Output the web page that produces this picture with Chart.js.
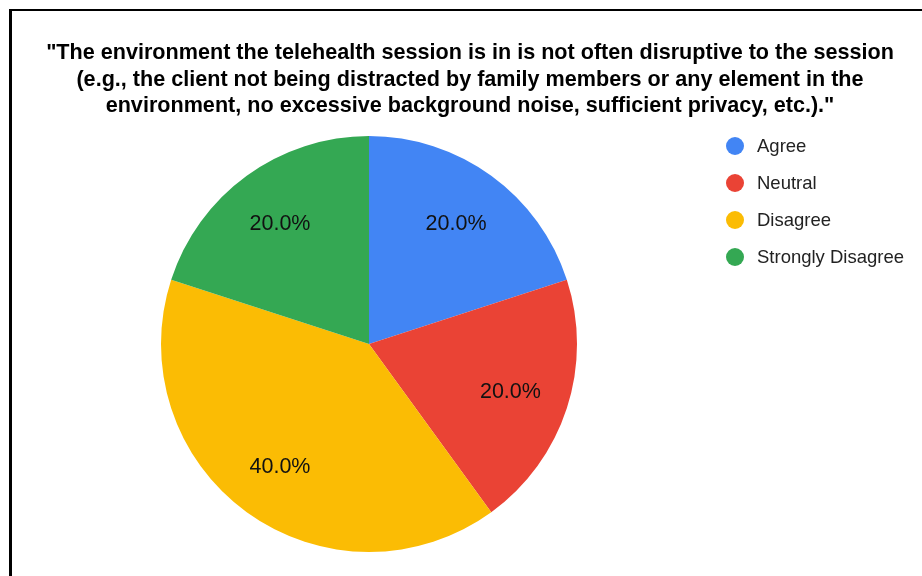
<!DOCTYPE html>
<html>
<head>
<meta charset="utf-8">
<script src="https://cdn.jsdelivr.net/npm/chart.js@4/dist/chart.umd.min.js"></script>
<style>
  html, body { margin: 0; padding: 0; background: #fff; }
  canvas { display: block; }
</style>
</head>
<body>
<canvas id="c" width="922" height="576"></canvas>
<script>
// Survey responses (share of respondents)
const categories = ['Agree', 'Neutral', 'Disagree', 'Strongly Disagree'];
const shares = [20, 20, 40, 20];
const sliceColors = ['#4285F4', '#EA4335', '#FBBC04', '#34A853'];
const titleLines = [
  '"The environment the telehealth session is in is not often disruptive to the session',
  '(e.g., the client not being distracted by family members or any element in the',
  'environment, no excessive background noise, sufficient privacy, etc.)."'
];

const FONT = '"Liberation Sans", Arial, Helvetica, sans-serif';

// Frame, title, legend and percentage labels
const decorations = {
  id: 'decorations',
  beforeDraw(chart) {
    const ctx = chart.ctx;
    ctx.save();
    ctx.fillStyle = '#fff';
    ctx.fillRect(0, 0, chart.width, chart.height);
    ctx.fillStyle = '#000';
    ctx.fillRect(9, 9, chart.width - 9, 2);
    ctx.fillRect(9, 9, 3, chart.height - 9);
    ctx.restore();
  },
  afterDraw(chart) {
    const ctx = chart.ctx;
    ctx.save();

    // title
    ctx.fillStyle = '#000';
    ctx.font = 'bold 21.6px ' + FONT;
    ctx.textAlign = 'center';
    ctx.textBaseline = 'alphabetic';
    titleLines.forEach((line, i) => ctx.fillText(line, 470, 59 + i * 26.5));

    // legend
    ctx.font = '18.5px ' + FONT;
    ctx.textAlign = 'left';
    ctx.textBaseline = 'middle';
    categories.forEach((name, i) => {
      const y = 146 + i * 37;
      ctx.fillStyle = sliceColors[i];
      ctx.beginPath();
      ctx.arc(735, y, 9, 0, Math.PI * 2);
      ctx.fill();
      ctx.fillStyle = '#222';
      ctx.fillText(name, 757, y + 1);
    });

    // percentage labels inside slices
    const meta = chart.getDatasetMeta(0);
    const total = shares.reduce((a, b) => a + b, 0);
    ctx.font = '21.5px ' + FONT;
    ctx.textAlign = 'center';
    ctx.textBaseline = 'middle';
    ctx.fillStyle = '#111';
    meta.data.forEach((arc, i) => {
      const p = arc.getProps(['x', 'y', 'startAngle', 'endAngle', 'outerRadius']);
      const mid = (p.startAngle + p.endAngle) / 2;
      const r = p.outerRadius * 0.72;
      const pct = (shares[i] / total * 100).toFixed(1) + '%';
      ctx.fillText(pct, p.x + Math.cos(mid) * r - 1, p.y + Math.sin(mid) * r + 1.5);
    });
    ctx.restore();
  }
};

new Chart(document.getElementById('c'), {
  type: 'pie',
  data: {
    labels: categories,
    datasets: [{
      data: shares,
      backgroundColor: sliceColors,
      borderWidth: 0,
      hoverOffset: 0
    }]
  },
  options: {
    responsive: false,
    animation: false,
    layout: { padding: { top: 136, bottom: 24, left: 161, right: 345 } },
    plugins: {
      legend: { display: false },
      title: { display: false },
      tooltip: { enabled: false }
    }
  },
  plugins: [decorations]
});
</script>
</body>
</html>
